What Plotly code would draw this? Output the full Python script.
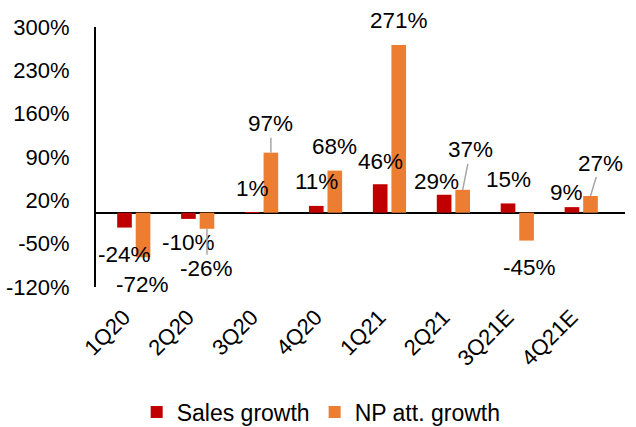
import plotly.graph_objects as go

categories = ["1Q20", "2Q20", "3Q20", "4Q20", "1Q21", "2Q21", "3Q21E", "4Q21E"]
sales_growth = [-24, -10, 1, 11, 46, 29, 15, 9]
np_growth = [-72, -26, 97, 68, 271, 37, -45, 27]
y_ticks = [-120, -50, 20, 90, 160, 230, 300]

# label offsets (pixels) from bar end: (ax, ay, show leader line)
sales_lbl = [(0, 27, False), (0, 24, False), (0, -24, False), (0, -24, False),
             (0, -23, False), (-8, -13, False), (0, -24, False), (-5, -15, False)]
np_lbl = [(-1, 27, False), (0, 40, True), (0, -29, True), (0, -24, False),
          (0, -24, False), (8, -40, True), (3, 27, False), (10, -33, True)]

RED = "#C00000"
ORANGE = "#ED7D31"
FONT = "Liberation Sans, Arial, sans-serif"
BARGAP = 0.42
slot = (1 - BARGAP) / 2

fig = go.Figure()
fig.add_trace(go.Bar(x=categories, y=sales_growth, name="Sales growth",
                     marker=dict(color=RED, line=dict(width=0))))
fig.add_trace(go.Bar(x=categories, y=np_growth, name="NP att. growth",
                     marker=dict(color=ORANGE, line=dict(width=0))))

annotations = []
for series, lbls, sign in ((sales_growth, sales_lbl, -1), (np_growth, np_lbl, 1)):
    for i, (v, (ax, ay, line)) in enumerate(zip(series, lbls)):
        annotations.append(dict(
            x=i + sign * slot / 2, y=v, xref="x", yref="y",
            text=f"{v}%", showarrow=True, ax=ax, ay=ay,
            arrowhead=0, arrowwidth=1.5, standoff=0,
            arrowcolor="#A6A6A6" if line else "rgba(0,0,0,0)",
            font=dict(family=FONT, size=22.5, color="black"),
        ))

fig.update_layout(
    width=636, height=427,
    margin=dict(l=96, r=11, t=27, b=140),
    paper_bgcolor="white", plot_bgcolor="white",
    barmode="group", bargap=BARGAP, bargroupgap=0.21,
    font=dict(family=FONT, size=22, color="black"),
    showlegend=True,
    legend=dict(orientation="h", x=0.505, xref="container", xanchor="center",
                y=0.035, yref="container", yanchor="middle",
                font=dict(size=23), itemsizing="constant", traceorder="normal"),
    annotations=annotations,
)
fig.update_xaxes(type="category", showline=False, showgrid=False, ticks="",
                 tickangle=-45, tickfont=dict(size=22), automargin=False,
                 ticklabelstandoff=12, ticklabelshift=-10)
fig.update_yaxes(range=[-120, 300], tickvals=y_ticks, ticktext=[f"{t}%" for t in y_ticks],
                 showgrid=False, showline=True, linecolor="black", linewidth=2,
                 zeroline=True, zerolinecolor="black", zerolinewidth=1.5,
                 ticks="", ticklabelstandoff=20, tickfont=dict(size=22), automargin=False)

fig.write_html("out.html")
